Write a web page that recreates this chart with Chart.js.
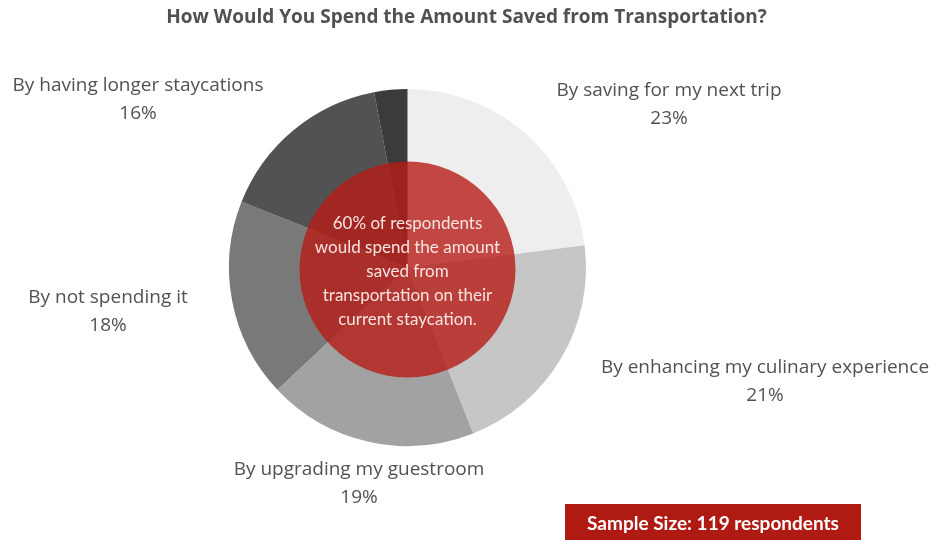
<!DOCTYPE html>
<html>
<head>
<meta charset="utf-8">
<script src="https://cdn.jsdelivr.net/npm/chart.js@4/dist/chart.umd.min.js"></script>
<style>
  html, body { margin: 0; padding: 0; background: #ffffff; }
  #wrap { position: relative; width: 933px; height: 540px; }
</style>
</head>
<body>
<div id="wrap"><canvas id="chart" width="933" height="540"></canvas></div>
<script>
// Survey answers, clockwise from twelve o'clock
const categories = [
  'By saving for my next trip',
  'By enhancing my culinary experience',
  'By upgrading my guestroom',
  'By not spending it',
  'By having longer staycations',
  'Other'
];
const shares = [23, 21, 19, 18, 16, 3];
const showLabel = [true, true, true, true, true, false];
const sliceColors = ['#eeeeee', '#c6c6c6', '#a2a2a2', '#797979', '#525252', '#3b3b3b'];

const chartTitle = 'How Would You Spend the Amount Saved from Transportation?';
const centerNote = [
  '60% of respondents',
  'would spend the amount',
  'saved from',
  'transportation on their',
  'current staycation.'
];
const sampleNote = 'Sample Size: 119 respondents';

// Where each slice caption sits (centre of the first line)
const captionSpots = [
  { x: 669, y: 91 },
  { x: 765, y: 368 },
  { x: 359, y: 470 },
  { x: 108, y: 298 },
  { x: 138, y: 86 },
  null
];

const overlayPlugin = {
  id: 'overlay',
  afterDraw(chart) {
    const ctx = chart.ctx;
    const arc = chart.getDatasetMeta(0).data[0];
    const cx = arc.x, cy = arc.y;

    ctx.save();
    // title
    ctx.fillStyle = '#515151';
    ctx.font = 'bold 19px "Open Sans"';
    ctx.textAlign = 'center';
    ctx.textBaseline = 'middle';
    ctx.fillText(chartTitle, chart.width / 2, 18);

    // slice captions
    ctx.font = '19px "Open Sans"';
    ctx.fillStyle = '#525252';
    categories.forEach((name, i) => {
      const spot = captionSpots[i];
      if (!showLabel[i] || !spot) return;
      ctx.fillText(name, spot.x, spot.y);
      ctx.fillText(shares[i] + '%', spot.x, spot.y + 28);
    });

    // translucent red disc over the pie centre
    ctx.beginPath();
    ctx.arc(cx, cy + 2, 108, 0, Math.PI * 2);
    ctx.fillStyle = 'rgba(182, 28, 22, 0.80)';
    ctx.fill();

    ctx.fillStyle = '#f7e4e1';
    ctx.font = '17px Lato';
    centerNote.forEach((line, i) => {
      ctx.fillText(line, cx, cy - 44 + i * 24);
    });

    // sample size badge
    ctx.fillStyle = '#af1b13';
    ctx.fillRect(565, 504, 296, 40);
    ctx.fillStyle = '#ffffff';
    ctx.font = 'bold 19px Lato';
    ctx.fillText(sampleNote, 713, 524);
    ctx.restore();
  }
};

new Chart(document.getElementById('chart'), {
  type: 'pie',
  data: {
    labels: categories,
    datasets: [{
      data: shares,
      backgroundColor: sliceColors,
      borderWidth: 0,
      hoverOffset: 0
    }]
  },
  options: {
    responsive: false,
    animation: false,
    events: [],
    layout: { padding: { left: 229, right: 347, top: 89, bottom: 94 } },
    plugins: {
      legend: { display: false },
      title: { display: false },
      tooltip: { enabled: false }
    }
  },
  plugins: [overlayPlugin]
});
</script>
</body>
</html>
